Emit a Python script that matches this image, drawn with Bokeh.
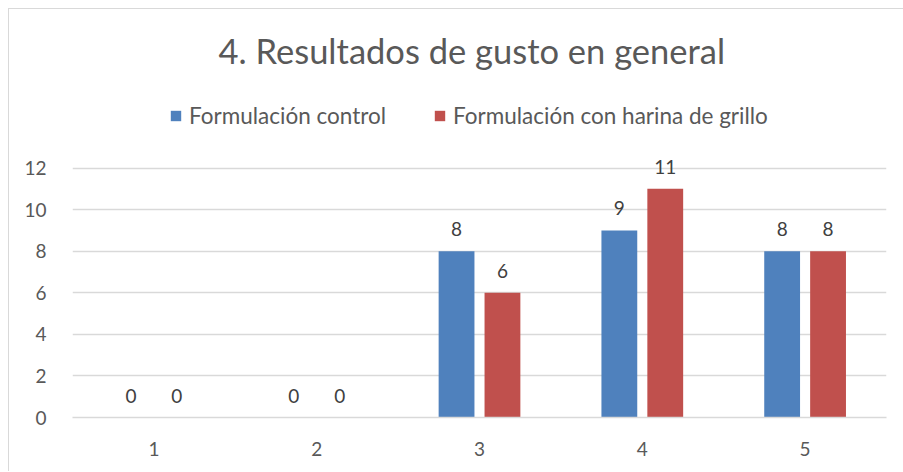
from bokeh.plotting import figure
from bokeh.models import ColumnDataSource, Legend, LegendItem, FactorRange
from bokeh.transform import dodge
from bokeh.embed import file_html
from bokeh.resources import INLINE
from bokeh.core.properties import value

categories = ["1", "2", "3", "4", "5"]
control = [0, 0, 8, 9, 8]
grillo = [0, 0, 6, 11, 8]
series_names = ["Formulación control", "Formulación con harina de grillo"]
colors = ["#4F81BD", "#C0504D"]
yticks = [0, 2, 4, 6, 8, 10, 12]

FONT = "Lato"
src = ColumnDataSource(dict(cat=categories, control=control, grillo=grillo,
                            lc=[str(v) for v in control], lg=[str(v) for v in grillo]))

p = figure(x_range=FactorRange(*categories), y_range=(0, 15.78), width=895, height=463,
           output_backend="svg", toolbar_location=None, margin=(8, 0, 0, 8),
           min_border_left=63, min_border_right=18, min_border_bottom=55, min_border_top=78)

r1 = p.vbar(x=dodge("cat", -0.141, range=p.x_range), top="control", width=0.22,
            source=src, color=colors[0], line_color=None)
r2 = p.vbar(x=dodge("cat", 0.141, range=p.x_range), top="grillo", width=0.22,
            source=src, color=colors[1], line_color=None)

for key, lab, off in [("control", "lc", -0.141), ("grillo", "lg", 0.141)]:
    p.text(x=dodge("cat", off, range=p.x_range), y=key, text=lab, source=src,
           text_align="center", text_baseline="bottom", y_offset=-15,
           text_font=value(FONT), text_font_size="19px", text_color="#404040")

p.title.text = "4. Resultados de gusto en general"
p.title.align = "left"
p.title.offset = 146
p.title.text_font = FONT
p.title.text_font_size = "34.5px"
p.title.text_font_style = "normal"
p.title.text_color = "#595959"
p.title.standoff = 37

legend = Legend(items=[LegendItem(label=series_names[0], renderers=[r1]),
                       LegendItem(label=series_names[1], renderers=[r2])],
                orientation="horizontal", location=(97, 288),
                label_text_font=FONT, label_text_font_size="22.5px", label_text_color="#595959",
                glyph_width=13, glyph_height=13, spacing=47, label_standoff=7,
                border_line_color=None, background_fill_alpha=0, margin=0, padding=0)
p.add_layout(legend, "center")

p.xgrid.grid_line_color = None
p.ygrid.grid_line_color = "#d9d9d9"
p.ygrid.grid_line_width = 1.5
p.yaxis.ticker = yticks
p.yaxis.axis_line_color = None
p.yaxis.major_tick_line_color = None
p.yaxis.minor_tick_line_color = None
p.yaxis.major_label_standoff = 20
p.xaxis.axis_line_color = "#d9d9d9"
p.xaxis.axis_line_width = 1.5
p.xaxis.major_tick_line_color = None
p.xaxis.minor_tick_line_color = None
p.xaxis.major_label_standoff = 18
for ax in (p.xaxis, p.yaxis):
    ax.major_label_text_font = FONT
    ax.major_label_text_font_size = "19px"
    ax.major_label_text_color = "#595959"
p.x_range.range_padding = 0
p.x_range.group_padding = 0
p.outline_line_color = None
p.styles = {"border-top": "1px solid #d9d9d9", "border-left": "1px solid #d9d9d9"}

open("out.html", "w").write(file_html(p, INLINE))
